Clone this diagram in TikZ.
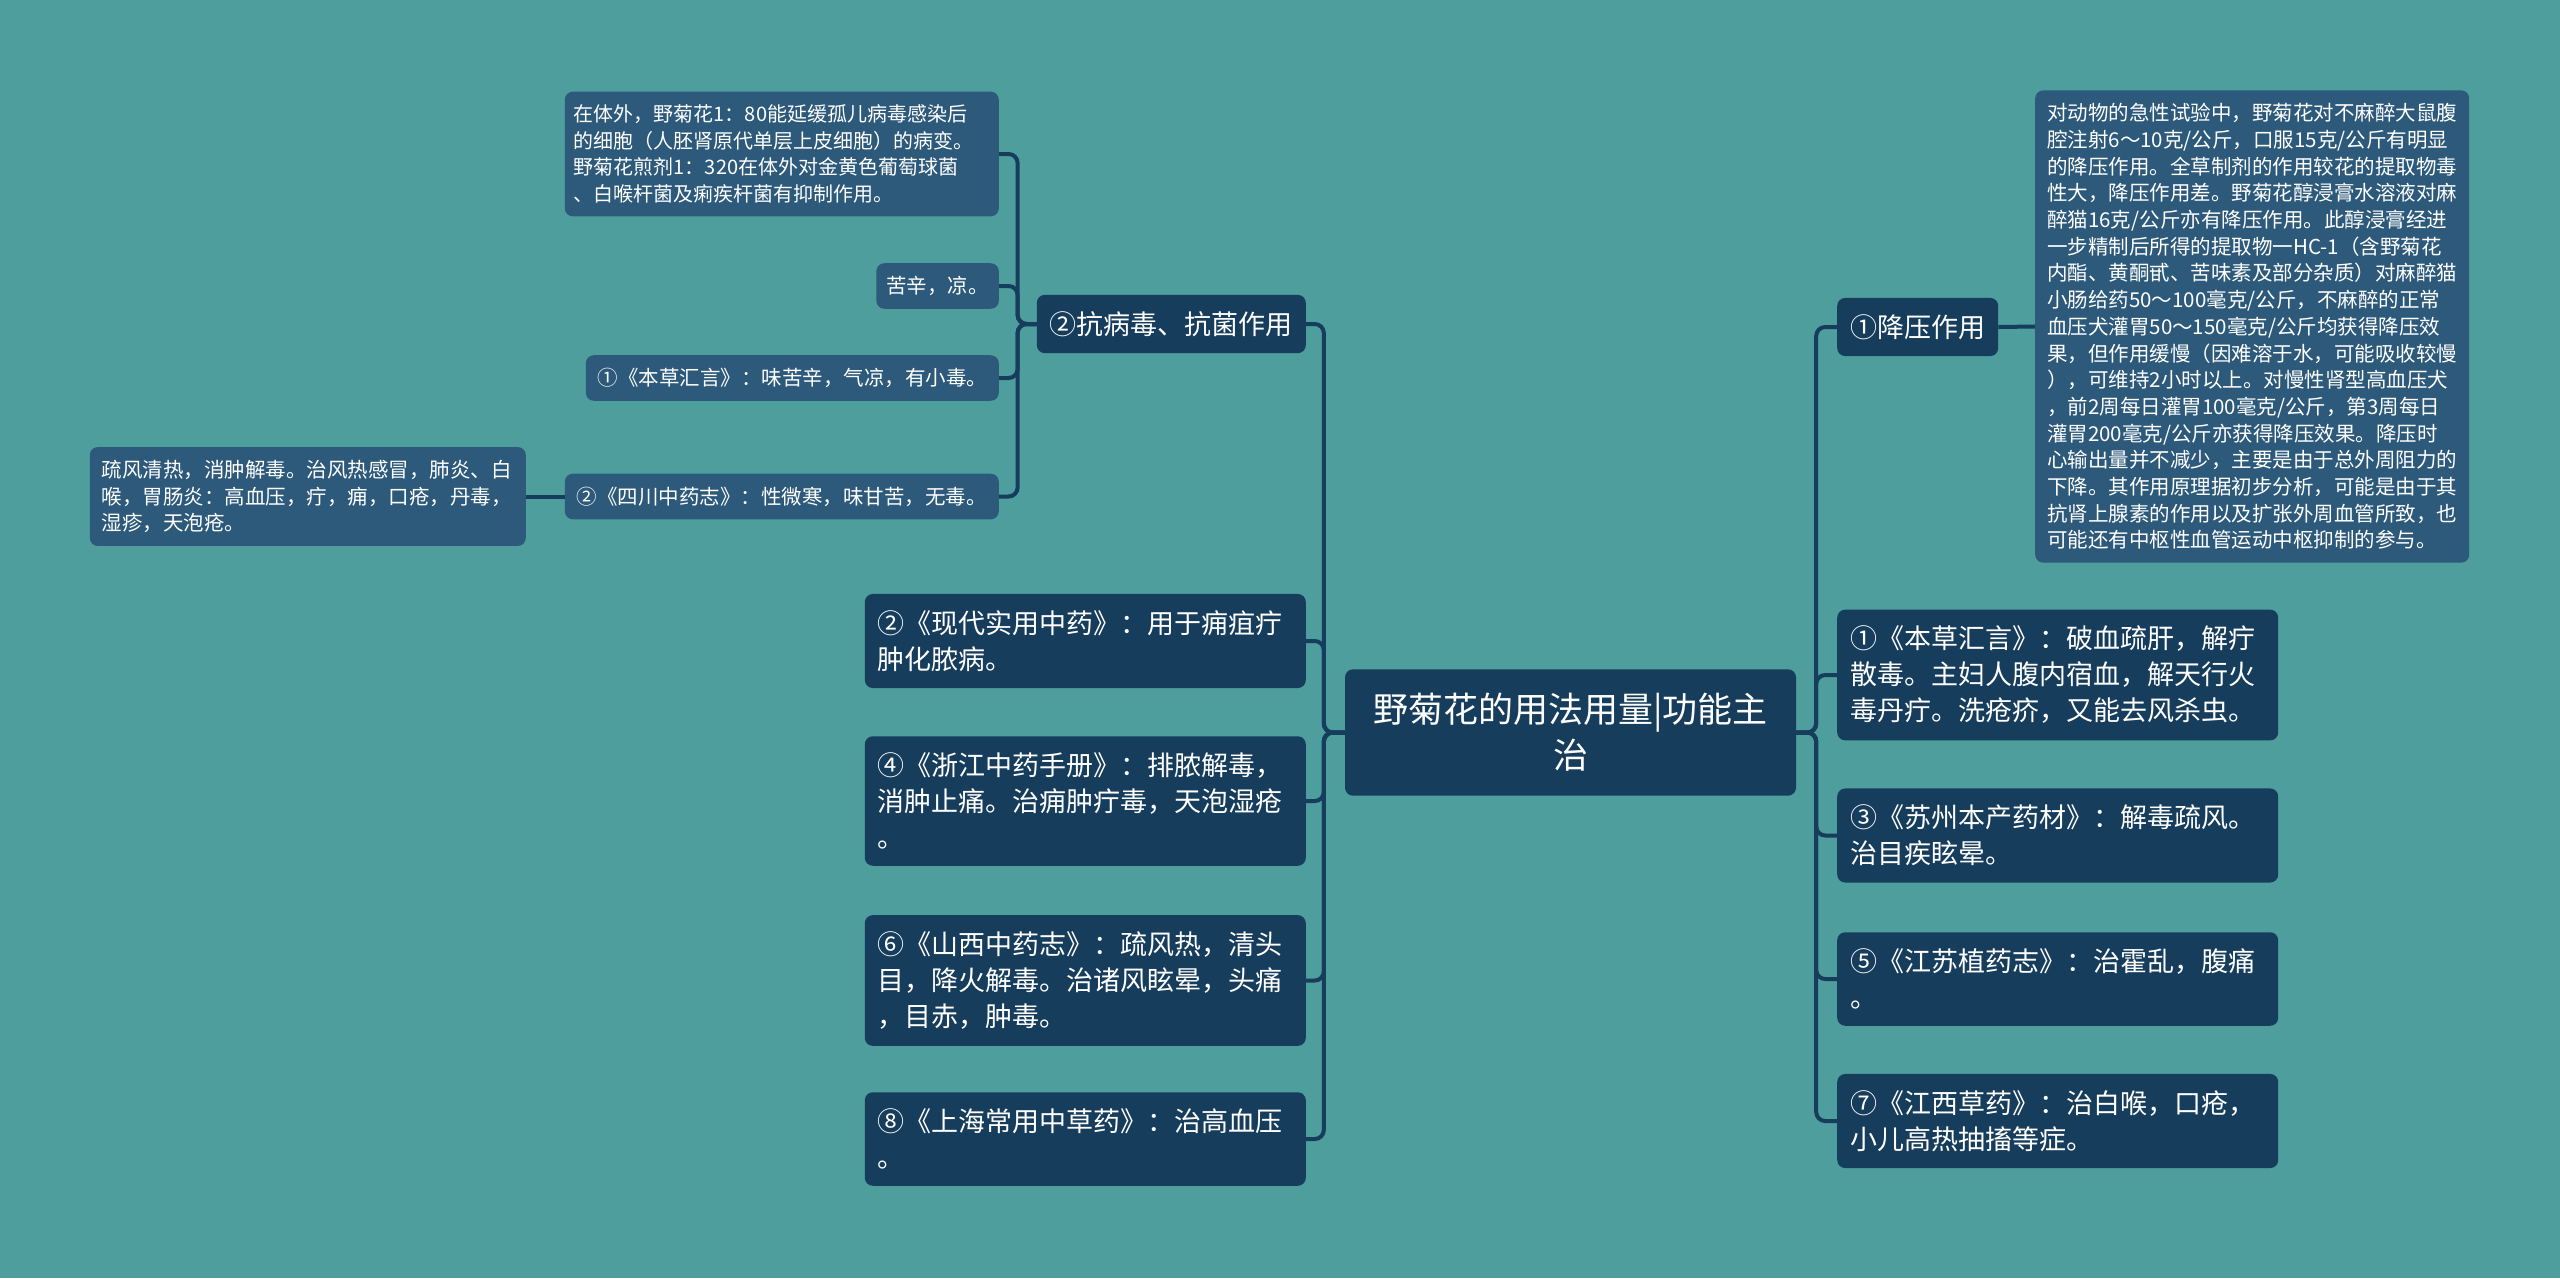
\documentclass[tikz,border=0pt]{standalone}
\usepackage{fontspec}
\setmainfont{Noto Sans CJK SC}
\usetikzlibrary{positioning}
\definecolor{mapbg}{HTML}{4E9E9E}
\definecolor{mapdark}{HTML}{173D5C}
\definecolor{maplight}{HTML}{2D5A7B}
\tikzset{
  mapbox/.style={rounded corners=8pt, text=white, align=left, inner xsep=12pt, inner ysep=13pt},
  sdark/.style={fill=mapdark},
  slight/.style={fill=maplight},
  rootbox/.style={mapbox, sdark, align=center, font=\fontsize{35}{46}\selectfont, inner xsep=24pt, inner ysep=24pt},
  midbox/.style={mapbox, sdark, font=\fontsize{27}{36}\selectfont, inner xsep=13pt, inner ysep=16.5pt},
  leafbox/.style={mapbox, slight, font=\fontsize{20.5}{26.7}\selectfont},
  maplink/.style={draw=mapdark, line width=4pt, rounded corners=9pt},
}

\begin{document}
\begin{tikzpicture}[x=1pt, y=-1pt]
  \fill[mapbg] (0,0) rectangle (2560,1278);
  \useasboundingbox (0,0) rectangle (2560,1278);
  % centre
  \node[rootbox, text width=403pt] (root) at (1570.5,732.5) {野菊花的用法用量|功能主\\治};
  % left side
  \node[midbox, anchor=east] (kbd) at (1306,324) {②抗病毒、抗菌作用};
  \node[midbox, anchor=east, text width=415pt] (xdsy) at (1306,641) {②《现代实用中药》：用于痈疽疔\\肿化脓病。};
  \node[midbox, anchor=east, text width=415pt] (zjzy) at (1306,801) {④《浙江中药手册》：排脓解毒，\\消肿止痛。治痈肿疔毒，天泡湿疮\\。};
  \node[midbox, anchor=east, text width=415pt] (sxzy) at (1306,980.5) {⑥《山西中药志》：疏风热，清头\\目，降火解毒。治诸风眩晕，头痛\\，目赤，肿毒。};
  \node[midbox, anchor=east, text width=415pt] (shzy) at (1306,1139) {⑧《上海常用中草药》：治高血压\\。};
  \node[leafbox, anchor=east, text width=416pt, inner xsep=9pt, font=\fontsize{20}{26.7}\selectfont] (tw) at (999,154) {在体外，野菊花1：80能延缓孤儿病毒感染后\\的细胞（人胚肾原代单层上皮细胞）的病变。\\野菊花煎剂1：320在体外对金黄色葡萄球菌\\、白喉杆菌及痢疾杆菌有抑制作用。};
  \node[leafbox, anchor=east, inner xsep=10pt] (kx) at (999,286) {苦辛，凉。};
  \node[leafbox, anchor=east, text width=389pt] (bchyb) at (999,378) {①《本草汇言》：味苦辛，气凉，有小毒。};
  \node[leafbox, anchor=east, text width=410pt] (sczy) at (999,496.5) {②《四川中药志》：性微寒，味甘苦，无毒。};
  \node[leafbox, anchor=east, text width=412pt] (sfqr) at (526,496.5) {疏风清热，消肿解毒。治风热感冒，肺炎、白\\喉，胃肠炎：高血压，疔，痈，口疮，丹毒，\\湿疹，天泡疮。};
  % right side
  \node[midbox, anchor=west] (jy) at (1837,327) {①降压作用};
  \node[leafbox, anchor=west, text width=410pt] (jyxq) at (2035,326.5) {对动物的急性试验中，野菊花对不麻醉大鼠腹\\
腔注射6～10克/公斤，口服15克/公斤有明显\\
的降压作用。全草制剂的作用较花的提取物毒\\
性大，降压作用差。野菊花醇浸膏水溶液对麻\\
醉猫16克/公斤亦有降压作用。此醇浸膏经进\\
一步精制后所得的提取物一HC-1（含野菊花\\
内酯、黄酮甙、苦味素及部分杂质）对麻醉猫\\
小肠给药50～100毫克/公斤，不麻醉的正常\\
血压犬灌胃50～150毫克/公斤均获得降压效\\
果，但作用缓慢（因难溶于水，可能吸收较慢\\
），可维持2小时以上。对慢性肾型高血压犬\\
，前2周每日灌胃100毫克/公斤，第3周每日\\
灌胃200毫克/公斤亦获得降压效果。降压时\\
心输出量并不减少，主要是由于总外周阻力的\\
下降。其作用原理据初步分析，可能是由于其\\
抗肾上腺素的作用以及扩张外周血管所致，也\\
可能还有中枢性血管运动中枢抑制的参与。};
  \node[midbox, anchor=west, text width=415pt] (bchy) at (1837,675) {①《本草汇言》：破血疏肝，解疔\\散毒。主妇人腹内宿血，解天行火\\毒丹疔。洗疮疥，又能去风杀虫。};
  \node[midbox, anchor=west, text width=415pt] (szbc) at (1837,835.5) {③《苏州本产药材》：解毒疏风。\\治目疾眩晕。};
  \node[midbox, anchor=west, text width=415pt] (jszy) at (1837,979) {⑤《江苏植药志》：治霍乱，腹痛\\。};
  \node[midbox, anchor=west, text width=415pt] (jxcy) at (1837,1121) {⑦《江西草药》：治白喉，口疮，\\小儿高热抽搐等症。};
  % links
  \foreach \c in {kbd,xdsy,zjzy,sxzy,shzy} \draw[maplink] (root.west) -- ++(-21,0) |- (\c.east);
  \foreach \c in {jy,bchy,szbc,jszy,jxcy} \draw[maplink] (root.east) -- ++(20,0) |- (\c.west);
  \foreach \c in {tw,kx,bchyb,sczy} \draw[maplink] (kbd.west) -- ++(-19,0) |- (\c.east);
  \draw[maplink] (sczy.west) -- (sfqr.east);
  \draw[maplink] (jy.east) -- (jyxq.west);
\end{tikzpicture}
\end{document}
